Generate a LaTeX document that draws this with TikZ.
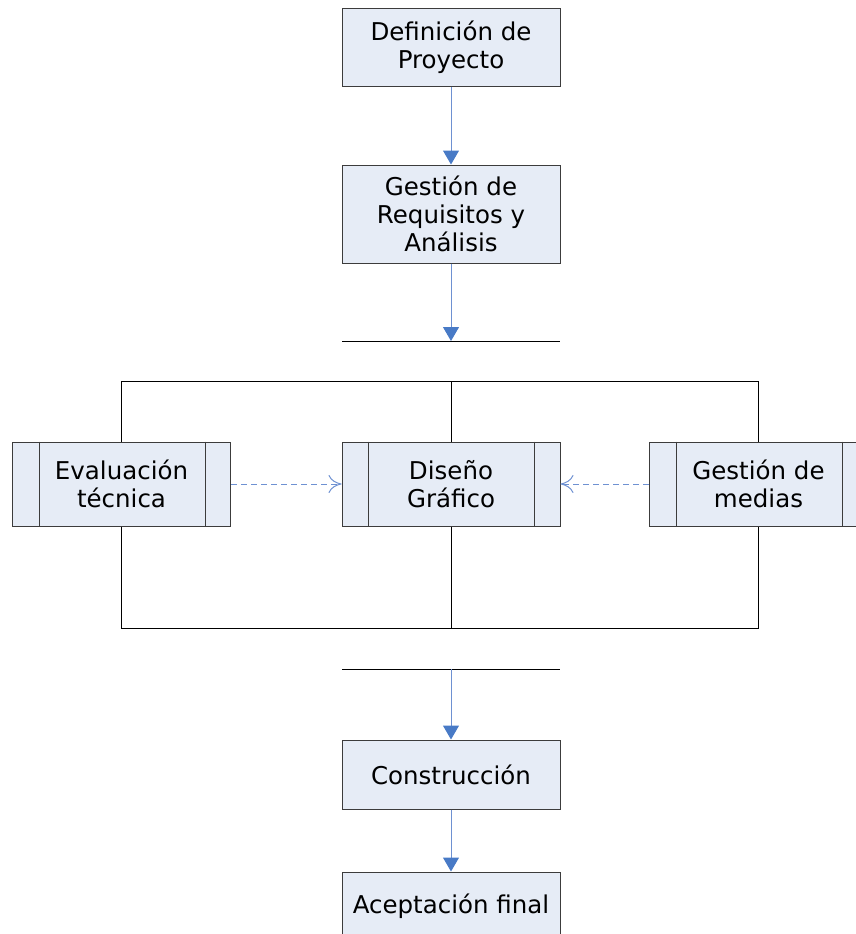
\documentclass[tikz,border=0pt]{standalone}
\usepackage{fontspec}
\setmainfont{DejaVu Sans}
\usetikzlibrary{arrows.meta, positioning, calc}
\definecolor{boxfill}{RGB}{230, 236, 246}
\definecolor{boxline}{RGB}{60, 60, 60}
\definecolor{flowblue}{RGB}{72, 122, 198}
\definecolor{linkblue}{RGB}{110, 145, 210}

\begin{document}
\begin{tikzpicture}[x=1pt, y=-1pt, line width=1pt,
  box/.style={draw=boxline, fill=boxfill, minimum width=218pt, inner sep=0pt, align=center, font=\fontsize{24.5}{28}\selectfont},
  subbox/.style={box, minimum height=84pt},
  flow/.style={draw=linkblue, -{Triangle[width=16pt, length=14pt, color=flowblue]}},
  link/.style={draw=linkblue, dash pattern=on 6pt off 4pt, -{To[length=13pt, width=18pt]}}]
  \useasboundingbox (0,0) rectangle (856,934);
  \clip (0,0) rectangle (856,934);

  % Main flow
  \node[box, minimum height=77pt] (def) at (451, 47.5) {Definición de\\Proyecto};
  \node[box, minimum height=98pt] (req) at (451, 214) {Gestión de\\Requisitos y\\Análisis};
  \coordinate (split) at (451, 341);
  \draw ($(split)+(-109,0)$) -- ($(split)+(109,0)$);

  % Parallel activities
  \node[subbox] (eva) at (121.5, 484) {Evaluación\\técnica};
  \node[subbox] (dis) at (451, 484) {Diseño\\Gráfico};
  \node[subbox] (med) at (758.5, 484) {Gestión de\\medias};
  \foreach \n in {eva, dis, med} {
    \draw[boxline] ([xshift=27pt]\n.north west) -- ([xshift=27pt]\n.south west);
    \draw[boxline] ([xshift=-26pt]\n.north east) -- ([xshift=-26pt]\n.south east);
  }
  \draw (eva.north) -- ++(0,-60) -| (med.north);
  \draw (dis.north) -- ++(0,-60);
  \draw (eva.south) -- ++(0,102) -| (med.south);
  \draw (dis.south) -- ++(0,102);

  \coordinate (join) at (451, 669);
  \draw ($(join)+(-109,0)$) -- ($(join)+(109,0)$);

  \node[box, minimum height=69pt] (con) at (451, 774.5) {Construcción};
  \node[box, minimum height=69pt] (acc) at (451, 906.5) {Aceptación final};

  % Connectors
  \draw[flow] (def) -- (req);
  \draw[flow] (req) -- (split);
  \draw[flow] (join) -- (con);
  \draw[flow] (con) -- (acc);
  \draw[link] (eva) -- (dis);
  \draw[link] (med) -- (dis);
\end{tikzpicture}
\end{document}
